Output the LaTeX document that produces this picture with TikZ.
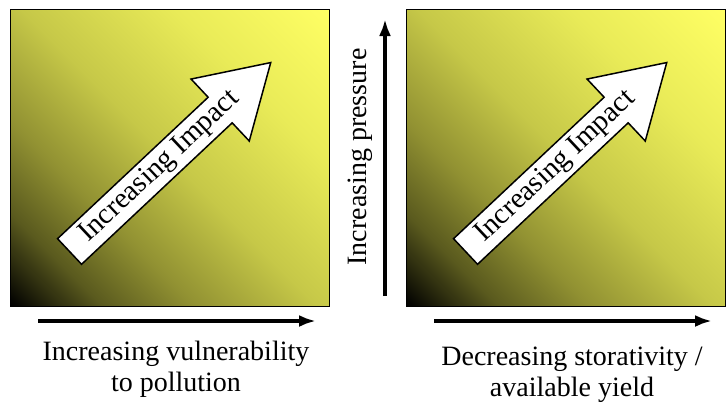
\documentclass[tikz,border=0pt]{standalone}
\usepackage{fontspec}
\setmainfont{Liberation Serif}
\usetikzlibrary{arrows.meta, positioning, shapes.arrows}
\definecolor{shadeA}{RGB}{90,90,30}
\definecolor{shadeB}{RGB}{145,145,50}
\definecolor{shadeC}{RGB}{198,200,72}
\definecolor{shadeD}{RGB}{233,235,88}
\definecolor{shadeTop}{RGB}{255,255,100}
\pgfdeclarehorizontalshading{impactshade}{100bp}{color(0bp)=(black); color(14.6bp)=(black);
  color(25.2bp)=(shadeA); color(35.8bp)=(shadeB); color(50bp)=(shadeC);
  color(67.7bp)=(shadeD); color(85.4bp)=(shadeTop); color(100bp)=(shadeTop)}

\begin{document}
\begin{tikzpicture}[
  x=1pt, y=-1pt,
  panel/.style={draw=black, line width=0.8pt, shading=impactshade, shading angle=45,
                minimum width=319pt, minimum height=297pt, anchor=north west, inner sep=0pt},
  impact/.style={single arrow, draw=black, line width=1.5pt, fill=white, rotate=43.2,
                 anchor=tail, minimum height=276pt, minimum width=85pt,
                 single arrow head extend=22pt, single arrow tip angle=63,
                 inner sep=2pt, font=\fontsize{29}{29}\selectfont},
  axis/.style={-{Latex[length=17pt, width=12pt]}, line width=4pt},
  lbl/.style={align=center, font=\fontsize{28}{31}\selectfont}
]
\useasboundingbox (0,0) rectangle (726,405);

% two impact panels
\node[panel] (vulnbox) at (10,9) {};
\node[panel] (storbox) at (406,9) {};

\node[impact] (vulnarrow) at (69,252) {Increasing Impact};
\node[impact] (storarrow) at (465,252) {Increasing Impact};

% axes
\coordinate (vulnstart) at (38,321);
\coordinate (vulnend) at (316,321);
\coordinate (storstart) at (434,321);
\coordinate (storend) at (712,321);
\coordinate (presstart) at (385,296);
\coordinate (presend) at (385,19);

\draw[axis] (vulnstart) -- (vulnend);
\draw[axis] (storstart) -- (storend);
\draw[axis] (presstart) -- (presend);

\node[lbl, rotate=90] (preslbl) at (360,157) {Increasing pressure};
\node[lbl] (vulnlbl) at (176,369.5) {Increasing vulnerability\\to pollution};
\node[lbl] (storlbl) at (572,374.5) {Decreasing storativity /\\available yield};

\end{tikzpicture}
\end{document}
